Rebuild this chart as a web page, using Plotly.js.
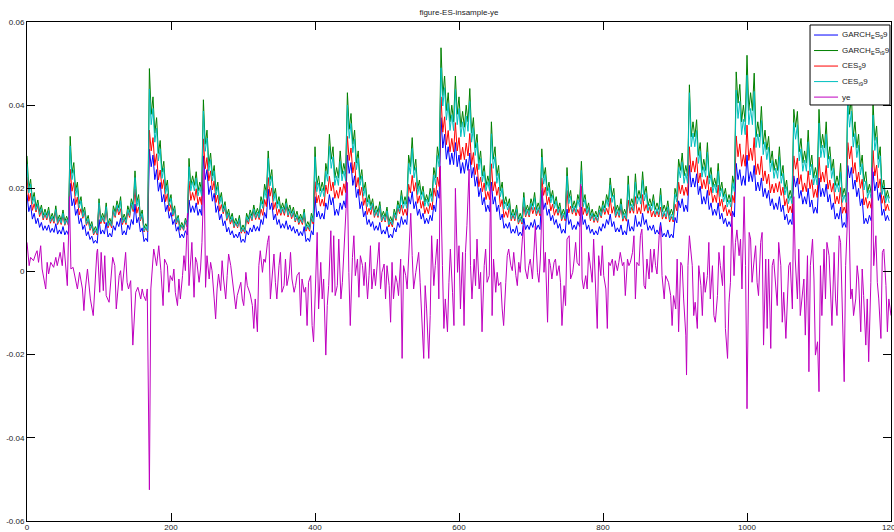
<!DOCTYPE html>
<html>
<head>
<meta charset="utf-8">
<script src="https://cdn.plot.ly/plotly-3.0.1.min.js"></script>
<style>html,body{margin:0;padding:0;background:#fff;}#chart{width:894px;height:532px;}</style>
</head>
<body>
<div id="chart"></div>
<script>
// ES series sampled at index 0, 2.5, 5, ... 1197.5
const xStart = 0;
const xStep = 2.5;
const xTicks = [0, 200, 400, 600, 800, 1000, 1200];
const yTicks = [-0.06, -0.04, -0.02, 0, 0.02, 0.04, 0.06];
const yTickText = ['-0.06', '-0.04', '-0.02', '0', '0.02', '0.04', '0.06'];
const seriesNames = ['GARCH<sub>E</sub>S<sub>9</sub>9', 'GARCH<sub>E</sub>S<sub>t9</sub>9', 'CES<sub>9</sub>9', 'CES<sub>t9</sub>9', 'ye'];

const garchES9 = [
0.0185,0.0144,0.0160,0.0126,0.0140,0.0115,0.0128,0.0106,0.0118,0.0099,0.0110,0.0099,0.0112,0.0094,0.0104,0.0094,0.0115,0.0090,0.0100,0.0090,
0.0108,0.0088,0.0098,0.0088,0.0212,0.0158,0.0175,0.0135,0.0150,0.0115,0.0128,0.0101,0.0112,0.0086,0.0096,0.0077,0.0085,0.0068,0.0075,0.0068,
0.0125,0.0090,0.0100,0.0090,0.0118,0.0083,0.0092,0.0083,0.0110,0.0099,0.0120,0.0108,0.0128,0.0088,0.0098,0.0088,0.0112,0.0101,0.0125,0.0113,
0.0162,0.0117,0.0130,0.0095,0.0105,0.0072,0.0080,0.0072,0.0294,0.0252,0.0280,0.0221,0.0245,0.0193,0.0214,0.0167,0.0185,0.0144,0.0160,0.0128,
0.0142,0.0113,0.0125,0.0097,0.0108,0.0081,0.0090,0.0081,0.0098,0.0088,0.0172,0.0142,0.0158,0.0142,0.0165,0.0135,0.0150,0.0135,0.0278,0.0221,
0.0245,0.0185,0.0206,0.0169,0.0188,0.0142,0.0158,0.0124,0.0138,0.0110,0.0122,0.0095,0.0106,0.0088,0.0098,0.0081,0.0090,0.0081,0.0095,0.0070,
0.0078,0.0070,0.0098,0.0088,0.0105,0.0095,0.0112,0.0097,0.0108,0.0097,0.0125,0.0113,0.0142,0.0128,0.0198,0.0149,0.0165,0.0124,0.0138,0.0113,
0.0125,0.0104,0.0115,0.0104,0.0122,0.0101,0.0112,0.0097,0.0108,0.0092,0.0102,0.0086,0.0096,0.0086,0.0108,0.0072,0.0080,0.0072,0.0098,0.0088,
0.0180,0.0131,0.0145,0.0126,0.0140,0.0126,0.0165,0.0149,0.0185,0.0160,0.0178,0.0135,0.0150,0.0135,0.0165,0.0149,0.0170,0.0153,0.0280,0.0236,
0.0262,0.0207,0.0230,0.0178,0.0198,0.0151,0.0168,0.0131,0.0145,0.0113,0.0125,0.0108,0.0120,0.0099,0.0110,0.0099,0.0118,0.0090,0.0100,0.0090,
0.0108,0.0081,0.0090,0.0081,0.0105,0.0095,0.0118,0.0106,0.0132,0.0113,0.0125,0.0113,0.0180,0.0162,0.0192,0.0151,0.0168,0.0135,0.0150,0.0126,
0.0140,0.0115,0.0128,0.0115,0.0135,0.0122,0.0160,0.0144,0.0195,0.0176,0.0370,0.0297,0.0330,0.0270,0.0300,0.0257,0.0285,0.0257,0.0310,0.0252,
0.0280,0.0236,0.0262,0.0236,0.0270,0.0243,0.0285,0.0225,0.0250,0.0205,0.0228,0.0180,0.0200,0.0160,0.0178,0.0144,0.0160,0.0144,0.0215,0.0162,
0.0180,0.0144,0.0160,0.0124,0.0138,0.0104,0.0115,0.0104,0.0118,0.0092,0.0102,0.0092,0.0110,0.0086,0.0095,0.0086,0.0128,0.0101,0.0112,0.0101,
0.0118,0.0106,0.0125,0.0101,0.0112,0.0101,0.0195,0.0149,0.0165,0.0135,0.0150,0.0122,0.0135,0.0113,0.0125,0.0104,0.0115,0.0092,0.0102,0.0092,
0.0150,0.0113,0.0125,0.0101,0.0112,0.0101,0.0120,0.0108,0.0155,0.0113,0.0125,0.0101,0.0112,0.0092,0.0102,0.0088,0.0098,0.0088,0.0108,0.0097,
0.0115,0.0104,0.0125,0.0113,0.0138,0.0108,0.0120,0.0095,0.0105,0.0095,0.0112,0.0088,0.0098,0.0088,0.0125,0.0097,0.0108,0.0097,0.0135,0.0108,
0.0120,0.0108,0.0140,0.0113,0.0125,0.0099,0.0110,0.0099,0.0112,0.0090,0.0100,0.0090,0.0118,0.0083,0.0092,0.0083,0.0100,0.0081,0.0090,0.0081,
0.0130,0.0117,0.0170,0.0153,0.0175,0.0144,0.0160,0.0144,0.0255,0.0203,0.0225,0.0203,0.0235,0.0185,0.0205,0.0162,0.0180,0.0162,0.0195,0.0149,
0.0165,0.0135,0.0150,0.0135,0.0165,0.0126,0.0140,0.0115,0.0128,0.0108,0.0120,0.0108,0.0145,0.0131,0.0260,0.0221,0.0245,0.0207,0.0230,0.0207,
0.0280,0.0216,0.0240,0.0216,0.0255,0.0194,0.0215,0.0194,0.0225,0.0180,0.0200,0.0176,0.0195,0.0158,0.0175,0.0149,0.0165,0.0149,0.0180,0.0144,
0.0160,0.0124,0.0138,0.0113,0.0125,0.0113,0.0230,0.0203,0.0225,0.0176,0.0195,0.0162,0.0180,0.0162,0.0200,0.0155,0.0172,0.0140,0.0155,0.0140,
0.0225,0.0180,0.0200,0.0180,0.0210,0.0167,0.0185,0.0149,0.0165,0.0126,0.0140,0.0126,0.0155,0.0106,0.0118,0.0106,0.0255,0.0225,0.0250,0.0198,
0.0220,0.0180,0.0200,0.0158,0.0175,0.0115,0.0128,0.0115,0.0135,0.0122,0.0240,0.0194,0.0215,0.0171,0.0190,0.0135,0.0150,0.0122,0.0135,0.0122
];

const garchESt9 = [
0.0278,0.0200,0.0222,0.0171,0.0190,0.0155,0.0172,0.0144,0.0160,0.0135,0.0150,0.0135,0.0155,0.0126,0.0140,0.0126,0.0158,0.0122,0.0136,0.0122,
0.0148,0.0120,0.0133,0.0120,0.0325,0.0236,0.0262,0.0194,0.0215,0.0162,0.0180,0.0140,0.0155,0.0122,0.0135,0.0108,0.0120,0.0097,0.0108,0.0097,
0.0175,0.0126,0.0140,0.0126,0.0165,0.0115,0.0128,0.0115,0.0158,0.0142,0.0170,0.0153,0.0180,0.0124,0.0138,0.0124,0.0158,0.0142,0.0175,0.0158,
0.0242,0.0167,0.0185,0.0133,0.0148,0.0104,0.0115,0.0104,0.0488,0.0378,0.0420,0.0333,0.0370,0.0284,0.0315,0.0239,0.0265,0.0198,0.0220,0.0167,
0.0185,0.0142,0.0158,0.0122,0.0135,0.0106,0.0118,0.0106,0.0128,0.0115,0.0272,0.0207,0.0230,0.0207,0.0240,0.0194,0.0215,0.0194,0.0413,0.0306,
0.0340,0.0257,0.0285,0.0230,0.0255,0.0194,0.0215,0.0171,0.0190,0.0151,0.0168,0.0135,0.0150,0.0126,0.0140,0.0115,0.0128,0.0115,0.0135,0.0101,
0.0112,0.0101,0.0140,0.0126,0.0148,0.0133,0.0160,0.0137,0.0152,0.0137,0.0180,0.0162,0.0210,0.0189,0.0290,0.0221,0.0245,0.0180,0.0200,0.0162,
0.0180,0.0149,0.0165,0.0149,0.0175,0.0144,0.0160,0.0140,0.0155,0.0131,0.0145,0.0124,0.0138,0.0124,0.0150,0.0108,0.0120,0.0108,0.0140,0.0126,
0.0300,0.0207,0.0230,0.0194,0.0215,0.0194,0.0260,0.0234,0.0330,0.0270,0.0300,0.0225,0.0250,0.0225,0.0290,0.0234,0.0260,0.0234,0.0430,0.0342,
0.0380,0.0306,0.0340,0.0261,0.0290,0.0221,0.0245,0.0194,0.0215,0.0167,0.0185,0.0158,0.0175,0.0142,0.0158,0.0142,0.0168,0.0131,0.0145,0.0131,
0.0155,0.0119,0.0132,0.0119,0.0150,0.0135,0.0170,0.0153,0.0195,0.0162,0.0180,0.0162,0.0280,0.0252,0.0322,0.0243,0.0270,0.0198,0.0220,0.0185,
0.0205,0.0167,0.0185,0.0167,0.0200,0.0180,0.0250,0.0225,0.0300,0.0270,0.0538,0.0423,0.0470,0.0387,0.0430,0.0360,0.0400,0.0360,0.0470,0.0378,
0.0420,0.0347,0.0385,0.0347,0.0400,0.0360,0.0440,0.0333,0.0370,0.0297,0.0330,0.0261,0.0290,0.0230,0.0255,0.0207,0.0230,0.0207,0.0360,0.0270,
0.0300,0.0230,0.0255,0.0194,0.0215,0.0162,0.0180,0.0158,0.0175,0.0135,0.0150,0.0135,0.0160,0.0126,0.0140,0.0126,0.0190,0.0144,0.0160,0.0144,
0.0175,0.0158,0.0190,0.0149,0.0165,0.0149,0.0295,0.0225,0.0250,0.0194,0.0215,0.0176,0.0195,0.0162,0.0180,0.0149,0.0165,0.0135,0.0150,0.0135,
0.0250,0.0176,0.0195,0.0153,0.0170,0.0153,0.0185,0.0167,0.0265,0.0167,0.0185,0.0149,0.0165,0.0135,0.0150,0.0131,0.0145,0.0131,0.0158,0.0142,
0.0170,0.0153,0.0185,0.0167,0.0225,0.0180,0.0200,0.0144,0.0160,0.0144,0.0175,0.0135,0.0150,0.0135,0.0230,0.0158,0.0175,0.0158,0.0235,0.0176,
0.0195,0.0176,0.0240,0.0185,0.0205,0.0158,0.0175,0.0158,0.0185,0.0149,0.0165,0.0149,0.0200,0.0144,0.0160,0.0144,0.0170,0.0135,0.0150,0.0135,
0.0200,0.0180,0.0270,0.0243,0.0285,0.0230,0.0255,0.0230,0.0449,0.0324,0.0360,0.0324,0.0365,0.0279,0.0310,0.0243,0.0270,0.0243,0.0310,0.0225,
0.0250,0.0203,0.0225,0.0203,0.0260,0.0194,0.0215,0.0180,0.0200,0.0167,0.0185,0.0167,0.0230,0.0207,0.0480,0.0405,0.0450,0.0360,0.0400,0.0360,
0.0520,0.0387,0.0430,0.0387,0.0477,0.0324,0.0360,0.0324,0.0397,0.0306,0.0340,0.0293,0.0325,0.0261,0.0290,0.0243,0.0270,0.0243,0.0300,0.0230,
0.0255,0.0198,0.0220,0.0176,0.0195,0.0176,0.0390,0.0347,0.0385,0.0288,0.0320,0.0261,0.0290,0.0261,0.0340,0.0252,0.0280,0.0225,0.0250,0.0225,
0.0390,0.0297,0.0330,0.0297,0.0360,0.0270,0.0300,0.0243,0.0270,0.0207,0.0230,0.0207,0.0260,0.0180,0.0200,0.0180,0.0437,0.0378,0.0420,0.0324,
0.0360,0.0297,0.0330,0.0252,0.0280,0.0216,0.0240,0.0189,0.0210,0.0189,0.0410,0.0315,0.0350,0.0270,0.0300,0.0198,0.0220,0.0176,0.0195,0.0176
];

const ces9 = [
0.0227,0.0169,0.0188,0.0147,0.0163,0.0143,0.0159,0.0132,0.0147,0.0124,0.0138,0.0124,0.0142,0.0116,0.0129,0.0116,0.0145,0.0113,0.0125,0.0113,
0.0136,0.0111,0.0123,0.0111,0.0246,0.0193,0.0214,0.0161,0.0179,0.0136,0.0151,0.0128,0.0142,0.0111,0.0123,0.0099,0.0110,0.0088,0.0098,0.0088,
0.0160,0.0115,0.0128,0.0115,0.0151,0.0105,0.0117,0.0105,0.0144,0.0130,0.0155,0.0136,0.0151,0.0113,0.0126,0.0113,0.0144,0.0130,0.0160,0.0144,
0.0198,0.0140,0.0155,0.0122,0.0135,0.0095,0.0105,0.0095,0.0340,0.0290,0.0322,0.0255,0.0283,0.0220,0.0244,0.0199,0.0221,0.0168,0.0187,0.0145,
0.0161,0.0133,0.0148,0.0114,0.0127,0.0099,0.0110,0.0099,0.0119,0.0107,0.0217,0.0171,0.0190,0.0171,0.0199,0.0161,0.0179,0.0161,0.0319,0.0247,
0.0274,0.0218,0.0242,0.0196,0.0218,0.0166,0.0184,0.0145,0.0161,0.0139,0.0154,0.0123,0.0137,0.0114,0.0127,0.0105,0.0117,0.0105,0.0123,0.0092,
0.0102,0.0092,0.0127,0.0114,0.0135,0.0122,0.0146,0.0125,0.0139,0.0125,0.0150,0.0135,0.0173,0.0156,0.0226,0.0181,0.0201,0.0149,0.0166,0.0135,
0.0150,0.0135,0.0150,0.0135,0.0159,0.0131,0.0146,0.0127,0.0141,0.0119,0.0132,0.0113,0.0125,0.0113,0.0137,0.0097,0.0108,0.0097,0.0127,0.0114,
0.0216,0.0165,0.0183,0.0157,0.0174,0.0157,0.0208,0.0187,0.0229,0.0194,0.0215,0.0176,0.0195,0.0176,0.0203,0.0183,0.0211,0.0190,0.0325,0.0267,
0.0297,0.0237,0.0263,0.0203,0.0226,0.0183,0.0203,0.0159,0.0177,0.0137,0.0152,0.0137,0.0159,0.0130,0.0144,0.0130,0.0153,0.0119,0.0132,0.0119,
0.0141,0.0107,0.0119,0.0107,0.0137,0.0123,0.0154,0.0139,0.0160,0.0135,0.0150,0.0135,0.0210,0.0189,0.0231,0.0193,0.0214,0.0164,0.0182,0.0152,
0.0169,0.0139,0.0154,0.0139,0.0164,0.0148,0.0201,0.0181,0.0227,0.0204,0.0420,0.0335,0.0372,0.0305,0.0339,0.0288,0.0320,0.0288,0.0358,0.0290,
0.0322,0.0269,0.0299,0.0269,0.0309,0.0278,0.0332,0.0257,0.0286,0.0233,0.0259,0.0204,0.0227,0.0192,0.0213,0.0173,0.0192,0.0173,0.0259,0.0194,
0.0216,0.0183,0.0203,0.0156,0.0173,0.0130,0.0144,0.0130,0.0158,0.0122,0.0136,0.0122,0.0145,0.0114,0.0127,0.0114,0.0156,0.0131,0.0146,0.0131,
0.0158,0.0139,0.0154,0.0134,0.0149,0.0134,0.0225,0.0183,0.0203,0.0161,0.0179,0.0146,0.0162,0.0135,0.0150,0.0135,0.0150,0.0122,0.0136,0.0122,
0.0195,0.0141,0.0157,0.0138,0.0153,0.0134,0.0149,0.0134,0.0205,0.0137,0.0152,0.0134,0.0149,0.0122,0.0136,0.0118,0.0131,0.0118,0.0143,0.0129,
0.0154,0.0137,0.0152,0.0137,0.0177,0.0140,0.0156,0.0130,0.0144,0.0130,0.0156,0.0121,0.0134,0.0121,0.0172,0.0140,0.0155,0.0140,0.0180,0.0139,
0.0154,0.0139,0.0185,0.0145,0.0161,0.0140,0.0156,0.0131,0.0145,0.0131,0.0146,0.0131,0.0155,0.0126,0.0140,0.0126,0.0149,0.0119,0.0132,0.0119,
0.0162,0.0146,0.0215,0.0187,0.0208,0.0183,0.0203,0.0183,0.0300,0.0239,0.0266,0.0239,0.0274,0.0213,0.0237,0.0199,0.0221,0.0199,0.0230,0.0183,
0.0203,0.0166,0.0184,0.0166,0.0208,0.0157,0.0174,0.0144,0.0160,0.0134,0.0149,0.0134,0.0183,0.0165,0.0326,0.0276,0.0307,0.0253,0.0281,0.0253,
0.0352,0.0267,0.0297,0.0267,0.0322,0.0233,0.0259,0.0233,0.0277,0.0218,0.0242,0.0211,0.0234,0.0189,0.0210,0.0189,0.0212,0.0191,0.0216,0.0183,
0.0203,0.0158,0.0175,0.0141,0.0157,0.0141,0.0278,0.0246,0.0273,0.0210,0.0233,0.0192,0.0213,0.0192,0.0242,0.0199,0.0221,0.0178,0.0198,0.0178,
0.0275,0.0215,0.0239,0.0215,0.0255,0.0198,0.0220,0.0191,0.0212,0.0163,0.0181,0.0163,0.0202,0.0140,0.0155,0.0140,0.0310,0.0271,0.0301,0.0236,
0.0262,0.0215,0.0239,0.0200,0.0222,0.0160,0.0178,0.0152,0.0169,0.0152,0.0291,0.0230,0.0256,0.0201,0.0223,0.0164,0.0182,0.0146,0.0162,0.0146
];

const cest9 = [
0.0259,0.0189,0.0210,0.0162,0.0180,0.0147,0.0163,0.0137,0.0152,0.0128,0.0142,0.0128,0.0146,0.0120,0.0133,0.0120,0.0149,0.0116,0.0129,0.0116,
0.0140,0.0113,0.0126,0.0113,0.0302,0.0221,0.0245,0.0182,0.0202,0.0153,0.0170,0.0131,0.0146,0.0114,0.0127,0.0102,0.0113,0.0091,0.0101,0.0091,
0.0165,0.0119,0.0132,0.0119,0.0156,0.0109,0.0121,0.0109,0.0148,0.0133,0.0160,0.0144,0.0170,0.0117,0.0130,0.0117,0.0149,0.0134,0.0165,0.0149,
0.0226,0.0157,0.0174,0.0125,0.0139,0.0097,0.0108,0.0097,0.0439,0.0353,0.0392,0.0311,0.0345,0.0266,0.0295,0.0224,0.0249,0.0187,0.0208,0.0158,
0.0176,0.0136,0.0151,0.0117,0.0130,0.0101,0.0112,0.0101,0.0122,0.0110,0.0252,0.0194,0.0216,0.0194,0.0225,0.0182,0.0202,0.0182,0.0386,0.0289,
0.0321,0.0242,0.0269,0.0218,0.0242,0.0184,0.0204,0.0162,0.0180,0.0143,0.0159,0.0127,0.0141,0.0119,0.0132,0.0108,0.0120,0.0108,0.0127,0.0095,
0.0105,0.0095,0.0132,0.0119,0.0139,0.0125,0.0150,0.0129,0.0143,0.0129,0.0169,0.0152,0.0196,0.0176,0.0272,0.0206,0.0229,0.0169,0.0188,0.0152,
0.0169,0.0140,0.0155,0.0140,0.0164,0.0135,0.0150,0.0131,0.0146,0.0122,0.0136,0.0117,0.0130,0.0117,0.0142,0.0101,0.0112,0.0101,0.0132,0.0119,
0.0276,0.0192,0.0213,0.0180,0.0200,0.0180,0.0241,0.0217,0.0301,0.0248,0.0276,0.0207,0.0230,0.0207,0.0265,0.0218,0.0242,0.0218,0.0400,0.0320,
0.0356,0.0286,0.0318,0.0245,0.0272,0.0207,0.0230,0.0181,0.0201,0.0156,0.0173,0.0148,0.0164,0.0133,0.0148,0.0133,0.0158,0.0122,0.0136,0.0122,
0.0146,0.0112,0.0124,0.0112,0.0141,0.0127,0.0160,0.0144,0.0182,0.0152,0.0169,0.0152,0.0260,0.0234,0.0296,0.0225,0.0250,0.0185,0.0206,0.0173,
0.0192,0.0157,0.0174,0.0157,0.0187,0.0168,0.0232,0.0209,0.0279,0.0251,0.0490,0.0398,0.0442,0.0364,0.0404,0.0339,0.0377,0.0339,0.0438,0.0353,
0.0392,0.0324,0.0360,0.0324,0.0374,0.0337,0.0409,0.0311,0.0346,0.0279,0.0310,0.0245,0.0272,0.0216,0.0240,0.0194,0.0216,0.0194,0.0331,0.0248,
0.0276,0.0212,0.0236,0.0180,0.0200,0.0150,0.0167,0.0148,0.0164,0.0126,0.0140,0.0126,0.0150,0.0118,0.0131,0.0118,0.0178,0.0135,0.0150,0.0135,
0.0164,0.0148,0.0177,0.0139,0.0154,0.0139,0.0275,0.0210,0.0233,0.0182,0.0202,0.0165,0.0183,0.0152,0.0169,0.0140,0.0155,0.0126,0.0140,0.0126,
0.0230,0.0163,0.0181,0.0142,0.0158,0.0142,0.0172,0.0155,0.0243,0.0156,0.0173,0.0139,0.0154,0.0126,0.0140,0.0122,0.0136,0.0122,0.0148,0.0133,
0.0159,0.0143,0.0173,0.0156,0.0208,0.0166,0.0184,0.0134,0.0149,0.0134,0.0162,0.0126,0.0140,0.0126,0.0209,0.0146,0.0162,0.0146,0.0215,0.0162,
0.0180,0.0162,0.0220,0.0170,0.0189,0.0146,0.0162,0.0146,0.0170,0.0137,0.0152,0.0137,0.0184,0.0131,0.0146,0.0131,0.0156,0.0124,0.0138,0.0124,
0.0186,0.0167,0.0250,0.0225,0.0263,0.0212,0.0236,0.0212,0.0430,0.0300,0.0333,0.0300,0.0339,0.0260,0.0289,0.0227,0.0252,0.0227,0.0287,0.0210,
0.0233,0.0189,0.0210,0.0189,0.0241,0.0180,0.0200,0.0167,0.0186,0.0155,0.0172,0.0155,0.0213,0.0192,0.0436,0.0368,0.0409,0.0329,0.0366,0.0329,
0.0472,0.0353,0.0392,0.0353,0.0433,0.0298,0.0331,0.0298,0.0363,0.0281,0.0312,0.0269,0.0299,0.0240,0.0267,0.0224,0.0249,0.0224,0.0276,0.0212,
0.0236,0.0184,0.0204,0.0163,0.0181,0.0163,0.0358,0.0318,0.0353,0.0266,0.0295,0.0241,0.0268,0.0241,0.0312,0.0232,0.0258,0.0208,0.0231,0.0208,
0.0357,0.0274,0.0304,0.0274,0.0330,0.0249,0.0277,0.0224,0.0249,0.0191,0.0212,0.0191,0.0239,0.0166,0.0184,0.0166,0.0401,0.0347,0.0386,0.0299,
0.0332,0.0274,0.0304,0.0233,0.0259,0.0196,0.0218,0.0176,0.0195,0.0176,0.0376,0.0291,0.0323,0.0250,0.0278,0.0185,0.0206,0.0165,0.0183,0.0165
];

// ye series (at its own index positions)
const yeIndex = [
0,3,5,9,12,14,16,19,21,23,26,28,30,33,37,40,42,46,49,51,54,56,59,61,64,67,70,73,77,79,
81,84,86,88,92,94,97,98,101,103,106,108,110,114,117,119,122,124,128,130,132,135,137,139,141,144,147,151,154,158,
160,162,165,167,170,172,176,180,183,186,189,191,195,197,199,202,204,206,209,211,213,216,218,220,223,225,227,229,232,234,
236,239,241,243,246,248,250,253,255,257,260,262,264,266,269,271,273,276,278,280,283,287,290,292,297,299,301,304,306,310,
313,315,317,320,322,324,327,329,331,334,336,338,341,343,345,347,350,352,354,357,359,361,364,366,368,371,373,375,378,380,
382,385,387,389,391,394,396,398,401,403,405,408,410,412,415,417,419,422,424,426,428,431,433,436,438,440,442,445,447,449,
452,454,456,459,461,463,466,468,470,473,475,477,479,482,484,486,489,491,493,496,498,500,503,505,507,509,512,514,516,519,
521,523,526,528,530,533,535,537,540,542,544,546,548,551,553,555,558,560,562,565,567,570,572,574,577,579,581,584,586,588,
591,593,595,598,600,602,605,607,609,611,614,616,618,621,623,625,628,630,632,635,637,639,642,644,646,648,651,653,655,658,
660,662,665,667,669,672,674,676,679,681,683,685,688,690,692,695,697,699,702,704,706,709,711,713,716,718,720,723,725,727,
729,732,734,736,739,741,743,746,748,750,753,755,758,760,762,764,767,769,771,773,776,778,780,783,785,787,790,792,794,797,
799,801,804,806,808,810,813,815,817,820,822,824,827,829,831,834,836,838,841,843,845,847,850,852,854,857,859,861,864,866,
868,871,873,875,878,880,882,885,887,889,891,894,896,898,901,903,905,908,910,912,915,916,918,920,924,926,928,931,933,936,
938,940,942,945,947,949,952,954,956,959,961,963,966,968,970,973,975,977,979,982,984,986,989,991,993,996,998,1000,1003,1005,
1007,1010,1012,1014,1016,1019,1021,1023,1026,1028,1030,1033,1035,1037,1040,1042,1044,1047,1049,1051,1054,1056,1058,1060,1063,1065,1067,1070,1072,1074,
1077,1079,1081,1084,1086,1088,1091,1093,1095,1098,1100,1102,1104,1107,1109,1111,1114,1116,1118,1121,1123,1125,1128,1130,1132,1135,1137,1139,1141,1144,
1146,1148,1151,1153,1155,1158,1160,1162,1165,1167,1169,1172,1174,1176,1179,1181,1183,1186,1188,1190,1193,1195,1197,1200
];
const ye = [
0.0070,0.0014,0.0034,0.0026,0.0042,0.0050,0.0022,0.0062,0.0006,-0.0018,-0.0042,0.0022,-0.0006,0.0022,0.0010,0.0034,0.0014,0.0046,0.0014,0.0070,0.0010,-0.0034,0.0180,0.0006,0.0010,-0.0018,-0.0042,-0.0002,-0.0042,-0.0094,
-0.0042,0.0006,-0.0030,-0.0066,-0.0106,-0.0034,0.0046,0.0054,-0.0050,0.0046,-0.0046,0.0038,-0.0058,-0.0074,-0.0006,0.0034,0.0014,-0.0090,-0.0010,0.0002,-0.0046,0.0014,0.0046,-0.0026,-0.0042,-0.0022,-0.0177,-0.0050,-0.0038,-0.0066,
-0.0042,-0.0058,-0.0070,-0.0042,-0.0525,-0.0042,0.0054,0.0014,0.0062,0.0002,-0.0082,0.0030,0.0014,-0.0050,-0.0010,-0.0022,0.0006,-0.0050,-0.0082,-0.0018,-0.0066,-0.0010,0.0038,0.0002,0.0140,-0.0034,0.0026,0.0070,-0.0062,0.0034,
0.0022,-0.0026,0.0006,0.0070,0.0245,-0.0038,0.0038,-0.0018,0.0022,0.0002,-0.0066,-0.0114,-0.0042,-0.0006,-0.0046,0.0026,-0.0018,-0.0066,-0.0010,0.0042,0.0014,-0.0050,-0.0090,-0.0058,-0.0026,-0.0066,-0.0082,-0.0002,-0.0034,-0.0054,
-0.0082,-0.0137,-0.0066,-0.0145,0.0014,0.0050,-0.0002,0.0030,0.0022,0.0070,0.0086,-0.0066,-0.0010,0.0042,-0.0026,-0.0066,0.0014,0.0046,-0.0050,-0.0034,0.0030,-0.0034,-0.0006,0.0046,-0.0018,-0.0050,-0.0034,-0.0010,-0.0002,-0.0106,
-0.0018,-0.0050,-0.0038,-0.0130,-0.0026,-0.0010,-0.0130,-0.0169,-0.0018,0.0094,-0.0090,0.0022,-0.0066,-0.0018,-0.0201,-0.0082,-0.0034,0.0098,-0.0050,0.0086,-0.0058,-0.0034,0.0078,-0.0066,-0.0026,0.0046,0.0110,0.0214,-0.0002,-0.0130,
0.0034,0.0086,-0.0010,0.0030,-0.0062,0.0038,0.0014,-0.0034,0.0022,-0.0066,-0.0010,0.0062,-0.0042,0.0006,-0.0034,0.0018,0.0070,-0.0042,-0.0002,0.0018,-0.0066,0.0014,-0.0034,-0.0122,0.0022,-0.0066,-0.0010,-0.0026,-0.0058,0.0030,
-0.0209,0.0014,-0.0010,-0.0042,0.0030,0.0140,0.0038,-0.0042,-0.0002,0.0022,0.0046,-0.0026,-0.0098,-0.0209,-0.0034,-0.0090,-0.0209,-0.0106,0.0086,-0.0034,0.0014,0.0078,-0.0066,0.0254,0.0014,-0.0137,-0.0066,-0.0145,-0.0026,0.0054,
-0.0050,-0.0130,0.0200,-0.0002,0.0062,-0.0090,0.0046,-0.0130,0.0046,0.0110,0.0246,0.0014,-0.0066,0.0030,-0.0034,0.0078,-0.0042,-0.0002,-0.0145,0.0014,0.0054,-0.0026,-0.0010,0.0206,-0.0106,0.0030,-0.0050,-0.0002,-0.0034,-0.0026,
-0.0090,-0.0130,-0.0026,0.0038,0.0054,0.0014,0.0002,0.0046,-0.0010,-0.0034,0.0022,-0.0002,0.0078,0.0110,0.0006,-0.0018,0.0014,0.0030,-0.0018,0.0062,0.0110,-0.0002,-0.0026,0.0030,0.0200,-0.0002,0.0046,-0.0122,0.0030,0.0014,
-0.0018,0.0022,0.0030,-0.0010,0.0014,-0.0026,-0.0130,-0.0034,-0.0082,0.0078,0.0086,-0.0018,-0.0002,0.0030,0.0070,0.0022,0.0014,0.0210,-0.0018,-0.0042,-0.0010,-0.0042,0.0046,0.0006,-0.0026,0.0078,-0.0082,-0.0137,0.0038,-0.0010,
0.0062,-0.0010,-0.0042,-0.0137,0.0022,0.0014,0.0030,-0.0010,0.0026,0.0002,0.0022,0.0046,0.0014,0.0022,-0.0058,0.0030,0.0014,0.0022,0.0046,0.0086,-0.0066,0.0022,0.0014,0.0086,0.0102,-0.0034,-0.0042,0.0030,-0.0018,0.0054,
-0.0002,0.0054,0.0014,-0.0006,0.0086,0.0110,-0.0010,-0.0066,-0.0010,-0.0018,-0.0026,-0.0058,-0.0130,-0.0058,-0.0090,0.0030,-0.0145,0.0022,0.0014,-0.0066,-0.0153,-0.0249,0.0014,0.0086,0.0014,-0.0106,-0.0074,-0.0137,0.0014,-0.0034,
-0.0106,-0.0002,-0.0050,-0.0010,0.0070,-0.0066,0.0014,-0.0106,-0.0122,-0.0058,0.0046,0.0014,-0.0034,0.0062,-0.0137,-0.0209,-0.0074,-0.0026,0.0140,-0.0010,0.0070,0.0100,0.0038,0.0078,-0.0042,0.0180,0.0014,-0.0330,0.0094,0.0078,
-0.0026,0.0030,0.0062,-0.0026,-0.0058,0.0070,0.0094,-0.0177,0.0030,-0.0137,0.0030,-0.0185,0.0014,0.0030,-0.0026,-0.0082,0.0070,0.0014,-0.0122,-0.0050,-0.0161,-0.0090,0.0014,0.0022,-0.0090,0.0180,0.0030,-0.0066,0.0054,-0.0106,
-0.0042,-0.0018,-0.0153,0.0038,-0.0241,0.0014,0.0078,-0.0018,-0.0201,-0.0169,-0.0289,0.0014,-0.0106,0.0054,-0.0066,0.0070,0.0038,-0.0050,-0.0130,0.0046,-0.0066,-0.0106,0.0086,0.0070,-0.0090,-0.0265,0.0014,0.0110,0.0190,-0.0066,
-0.0042,-0.0106,-0.0066,0.0014,-0.0018,-0.0145,0.0006,-0.0058,-0.0177,-0.0066,-0.0217,-0.0026,0.0250,0.0014,0.0086,-0.0026,-0.0066,-0.0161,0.0046,0.0054,-0.0034,-0.0145,-0.0066,-0.0106
];

const colors = ['#0000ff', '#008000', '#ff0000', '#00bfbf', '#bf00bf'];
const volSeries = [garchES9, garchESt9, ces9, cest9];

const traces = volSeries.map((vals, i) => ({
  type: 'scatter', mode: 'lines', y: vals, x0: xStart, dx: xStep,
  name: seriesNames[i], showlegend: false,
  line: {color: colors[i], width: 1}
}));
traces.push({
  type: 'scatter', mode: 'lines', x: yeIndex, y: ye,
  name: seriesNames[4], showlegend: false,
  line: {color: colors[4], width: 1}
});

const fam = 'Liberation Sans, Arial, sans-serif';
const font = {family: fam, size: 8, color: '#222'};

const axisCommon = {
  showline: true, linecolor: '#000', linewidth: 1, mirror: 'ticks',
  ticks: 'inside', ticklen: 8, tickcolor: '#000', tickwidth: 1,
  showgrid: false, zeroline: false, tickfont: font, ticklabeloverflow: 'allow'
};

// hand-built legend box (paper coordinates)
const legBox = {x0: 0.9063, x1: 0.9988, y0: 0.8337, y1: 0.9940};
const legRowTop = 0.9739, legRowStep = 0.0311;
const shapes = [{type: 'rect', xref: 'paper', yref: 'paper', x0: legBox.x0, x1: legBox.x1, y0: legBox.y0, y1: legBox.y1,
                 line: {color: '#000', width: 1}, fillcolor: '#fff', layer: 'above'}];
const annotations = [];
seriesNames.forEach((nm, i) => {
  const yy = legRowTop - i * legRowStep;
  shapes.push({type: 'line', xref: 'paper', yref: 'paper', x0: 0.9109, x1: 0.9387, y0: yy, y1: yy,
               line: {color: colors[i], width: 1}, layer: 'above'});
  annotations.push({xref: 'paper', yref: 'paper', x: 0.9415, y: yy, xanchor: 'left', yanchor: 'middle',
                    text: nm, showarrow: false, font: {family: fam, size: 8, color: '#222'}});
});

const layout = {
  width: 894, height: 532,
  margin: {l: 27, r: 3, t: 22, b: 11},
  paper_bgcolor: '#fff', plot_bgcolor: '#fff',
  font: font,
  title: {text: 'figure-ES-insample-ye', font: {family: fam, size: 8, color: '#222'},
          x: 0.5, xref: 'paper', y: 1 - 12/532, yref: 'container', yanchor: 'middle'},
  xaxis: Object.assign({}, axisCommon, {range: [0, 1200], tickmode: 'array', tickvals: xTicks, ticktext: xTicks.map(String), ticklabelstandoff: -2}),
  yaxis: Object.assign({}, axisCommon, {range: [-0.06, 0.06], tickmode: 'array', tickvals: yTicks, ticktext: yTickText}),
  showlegend: false,
  shapes: shapes,
  annotations: annotations,
  hovermode: false
};

Plotly.newPlot('chart', traces, layout, {staticPlot: true, displayModeBar: false});
</script>
</body>
</html>
